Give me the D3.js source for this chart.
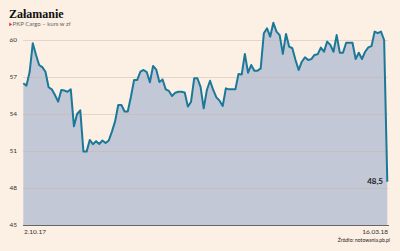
<!DOCTYPE html>
<meta charset="utf-8">
<style>
body { margin: 0; background: #fcefe4; }
svg { display: block; }
.title { font-family: "Liberation Serif", serif; font-weight: bold; font-size: 12px; fill: #111; }
.sub { font-family: Lato, sans-serif; font-size: 6px; fill: #666; }
.tick { font-family: Lato, sans-serif; font-size: 6.5px; fill: #333; }
.src { font-family: Lato, sans-serif; font-size: 5px; fill: #222; }
.last { font-family: Lato, sans-serif; font-weight: bold; font-size: 8px; fill: #222; }
</style>
<svg width="400" height="251"></svg>
<script src="https://d3js.org/d3.v7.min.js"></script>
<script>

// kurs PKP Cargo, notowania dzienne 2.10.17 - 16.03.18
var prices = [
  56.49, 56.3, 57.4, 59.74, 58.8, 57.97, 57.8, 57.43, 56.17, 56.0,
  55.54, 55.0, 55.95, 55.9, 55.8, 56.0, 53.0, 54.0, 54.3, 50.95,
  50.95, 51.9, 51.55, 51.8, 51.57, 51.85, 51.65, 51.85, 52.57, 53.4,
  54.73, 54.73, 54.2, 54.2, 55.4, 56.76, 56.76, 57.43, 57.57, 57.4,
  56.57, 57.9, 57.6, 56.6, 56.8, 56.0, 55.87, 55.46, 55.73, 55.8,
  55.8, 55.75, 54.6, 55.0, 56.9, 56.9, 56.2, 54.46, 55.95, 56.7,
  55.95, 55.35, 55.08, 54.65, 56.08, 56.0, 56.0, 56.0, 57.25, 57.2,
  58.87, 57.35, 57.97, 57.5, 57.5, 57.7, 60.55, 60.95, 60.27, 61.4,
  60.68, 60.4, 58.87, 60.49, 59.46, 59.33, 58.38, 57.57, 58.24, 58.6,
  58.38, 58.45, 58.79, 58.84, 59.38, 59.05, 59.87, 59.6, 59.05, 60.4,
  58.97, 58.97, 59.78, 59.78, 59.78, 58.46, 58.97, 58.46, 59.05, 59.4,
  59.5, 60.68, 60.55, 60.68, 60.0, 48.5
];
var yTicks = [45, 48, 51, 54, 57, 60];
var firstDate = "2.10.17";
var lastDate = "16.03.18";
var lastLabel = "48,5";

var svg = d3.select("svg");

var x = d3.scaleLinear().domain([0, prices.length - 1]).range([23.3, 387.3]);
var y = d3.scaleLinear().domain([45, 60]).range([225, 40]);

svg.append("text").attr("class", "title").attr("x", 9).attr("y", 18).text("Załamanie");
svg.append("path").attr("d", "M9.3,22.6L12,24.4L9.3,26.2Z").attr("fill", "#d9262c");
svg.append("text").attr("class", "sub").attr("x", 12.6).attr("y", 26.2).text("PKP Cargo – kurs w zł");

var area = d3.area()
    .x(function(d, i) { return x(i); })
    .y0(y(45))
    .y1(function(d) { return y(d); });

svg.append("path")
    .datum(prices)
    .attr("fill", "#c3c8d7")
    .attr("d", area);

// siatka
svg.append("g")
  .selectAll("line")
  .data(yTicks.slice(1))
  .enter().append("line")
    .attr("x1", 23).attr("x2", 388)
    .attr("y1", function(d) { return y(d) + 0.5; })
    .attr("y2", function(d) { return y(d) + 0.5; })
    .attr("stroke", "#c9b4a4")
    .attr("stroke-opacity", 0.45)
    .attr("stroke-width", 1);

svg.append("g")
  .selectAll("text")
  .data(yTicks)
  .enter().append("text")
    .attr("class", "tick")
    .attr("x", 9.5)
    .attr("y", function(d) { return y(d) + 1.5; })
    .text(function(d) { return d; });

var line = d3.line()
    .x(function(d, i) { return x(i); })
    .y(function(d) { return y(d); });

svg.append("path")
    .datum(prices)
    .attr("fill", "none")
    .attr("stroke", "#1b7898")
    .attr("stroke-width", 2)
    .attr("stroke-linejoin", "round")
    .attr("d", line);

svg.append("line")
    .attr("x1", 23).attr("x2", 389)
    .attr("y1", y(45) + 0.5).attr("y2", y(45) + 0.5)
    .attr("stroke", "#666").attr("stroke-width", 1);

svg.append("text").attr("class", "tick").attr("x", 24).attr("y", 233.5).text(firstDate);
svg.append("text").attr("class", "tick").attr("x", 388).attr("y", 233.5)
    .attr("text-anchor", "end").text(lastDate);
svg.append("text").attr("class", "src").attr("x", 390).attr("y", 242)
    .attr("text-anchor", "end").text("Źródło: notowania.pb.pl");

svg.append("text").attr("class", "last")
    .attr("x", 383).attr("y", y(prices[prices.length - 1]) + 2.5)
    .attr("text-anchor", "end").text(lastLabel);

</script>
